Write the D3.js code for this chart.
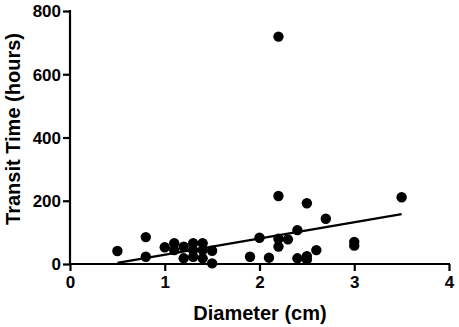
<!DOCTYPE html>
<html><head><meta charset="utf-8">
<script src="https://cdn.jsdelivr.net/npm/d3@7"></script>
<style>body{margin:0;background:#fff}svg{display:block}text{font-family:"Liberation Sans",Arial,sans-serif;font-weight:bold;fill:#000}</style>
</head><body>
<svg id="c" width="459" height="327"></svg>
<script>
const diameter = [0.5,0.8,0.8,1.0,1.1,1.1,1.2,1.2,1.3,1.3,1.3,1.4,1.4,1.4,1.5,1.5,1.9,2.0,2.1,2.2,2.2,2.2,2.2,2.3,2.4,2.4,2.5,2.5,2.5,2.6,2.7,3.0,3.0,3.5];
const transit  = [41,85,23,53,66,44,55,18,66,44,23,66,44,18,42,2,23,83,20,719,215,80,55,78,107,18,192,25,14,44,143,70,58,211];
const xTicks = [0,1,2,3,4];
const yTicks = [0,200,400,600,800];
const fitSlope = 51.3, fitIntercept = -22;
const fitRange = [0.5, 3.5];

const svg = d3.select("#c");
const x = d3.scaleLinear().domain([0,4]).range([70,449]);
const y = d3.scaleLinear().domain([0,800]).range([264,11]);

const xa = svg.append("g").attr("transform","translate(0,264)")
  .call(d3.axisBottom(x).tickValues(xTicks).tickFormat(d3.format("d")).tickSize(7).tickSizeOuter(0));
const ya = svg.append("g").attr("transform","translate(70,0)")
  .call(d3.axisLeft(y).tickValues(yTicks).tickFormat(d3.format("d")).tickSize(7).tickSizeOuter(0));
[xa,ya].forEach(g=>{
  g.select(".domain").attr("stroke","#000").attr("stroke-width",2.2);
  g.selectAll(".tick line").attr("stroke","#000").attr("stroke-width",2.2);
  g.selectAll(".tick text").attr("font-size",17).attr("font-family","Liberation Sans, Arial, sans-serif").attr("font-weight","bold").attr("fill","#000");
});
xa.selectAll(".tick text").attr("dy","0.95em").attr("y",8);
ya.selectAll(".tick text").attr("x",-9).attr("dy","0.35em");
// extend domains to overlap at corner
xa.select(".domain").attr("d",`M${x(0)-1},0H${x(4)+1}`);
ya.select(".domain").attr("d",`M0,${y(0)+1}V${y(800)-1}`);

svg.append("line")
  .attr("x1",x(fitRange[0])).attr("y1",y(fitIntercept+fitSlope*fitRange[0]))
  .attr("x2",x(fitRange[1])).attr("y2",y(fitIntercept+fitSlope*fitRange[1]))
  .attr("stroke","#000").attr("stroke-width",2.2);

svg.append("g").selectAll("circle").data(diameter.map((d,i)=>[d,transit[i]])).join("circle")
  .attr("cx",d=>x(d[0])).attr("cy",d=>y(d[1])).attr("r",5.2).attr("fill","#000");

svg.append("text").attr("x",260).attr("y",320).attr("text-anchor","middle").attr("font-size",20).text("Diameter (cm)");
svg.append("text").attr("transform","translate(20,129) rotate(-90)").attr("text-anchor","middle").attr("font-size",20).text("Transit Time (hours)");
</script>
</body></html>
